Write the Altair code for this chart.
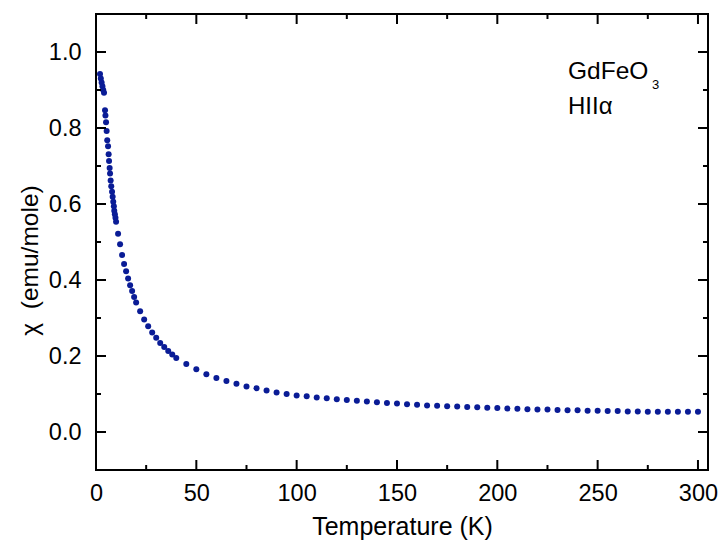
import altair as alt
import pandas as pd

# Data
temperature = [
    2.0, 2.4, 2.8, 3.2, 3.6, 4.0,
    4.5, 4.7, 5.0, 5.3, 5.6, 6.0, 6.3, 6.5, 6.8, 7.0, 7.3, 7.6, 8.0, 8.3,
    8.6, 8.9, 9.1, 9.4, 9.7, 10.0,
    11, 12, 13, 14, 15, 16, 17, 18, 19, 20,
    22, 24, 26, 28, 30, 32, 34, 36, 38, 40,
    45, 50, 55, 60, 65, 70, 75, 80, 85, 90,
    95, 100, 105, 110, 115, 120, 125, 130, 135, 140,
    145, 150, 155, 160, 165, 170, 175, 180, 185, 190,
    195, 200, 205, 210, 215, 220, 225, 230, 235, 240,
    245, 250, 255, 260, 265, 270, 275, 280, 285, 290,
    295, 300,
]
chi = [
    0.942, 0.930, 0.920, 0.910, 0.900, 0.893,
    0.847, 0.833, 0.815, 0.792, 0.768, 0.752, 0.731, 0.713, 0.695, 0.680,
    0.662, 0.647, 0.632, 0.619, 0.606, 0.594, 0.582, 0.573, 0.564, 0.553,
    0.522, 0.494, 0.466, 0.442, 0.423, 0.404, 0.386, 0.371, 0.355, 0.341,
    0.318, 0.296, 0.278, 0.262, 0.248, 0.234, 0.224, 0.213, 0.204, 0.195,
    0.179, 0.165, 0.152, 0.142, 0.134, 0.127, 0.120, 0.115, 0.109, 0.104,
    0.100, 0.096, 0.094, 0.091, 0.089, 0.086, 0.084, 0.082, 0.080, 0.078,
    0.076, 0.075, 0.073, 0.072, 0.070, 0.069, 0.068, 0.067, 0.066, 0.065,
    0.064, 0.063, 0.062, 0.061, 0.060, 0.059, 0.059, 0.058, 0.057, 0.057,
    0.056, 0.056, 0.055, 0.055, 0.054, 0.054, 0.053, 0.053, 0.053, 0.053,
    0.053, 0.053,
]

x_major = [0, 50, 100, 150, 200, 250, 300]
x_minor = [25, 75, 125, 175, 225, 275]
y_major = [0.0, 0.2, 0.4, 0.6, 0.8, 1.0]
y_minor = [0.1, 0.3, 0.5, 0.7, 0.9]

x_domain = [0, 305]
y_domain = [-0.1, 1.1]

W, H = 612, 456
FONT = "Liberation Sans"
COLOR = "#0A1C96"
X_TITLE = "Temperature (K)"
Y_TITLE = "χ\u00a0\u00a0(emu/mole)"

xs = alt.Scale(domain=x_domain, nice=False, zero=False)
ys = alt.Scale(domain=y_domain, nice=False, zero=False)

x_axis = alt.Axis(values=x_major, ticks=False, tickSize=0, domain=False,
                  grid=False, labelPadding=11, titlePadding=10,
                  labelFlush=False,
                  labelFontSize=23.5, titleFontSize=25, labelFont=FONT,
                  titleFont=FONT, titleFontWeight="normal",
                  labelColor="black", titleColor="black")
y_axis = alt.Axis(values=y_major, format=".1f", ticks=False, tickSize=0,
                  domain=False, grid=False, labelPadding=15,
                  labelFlush=False,
                  titleX=-66, titleY=246, titleAngle=270,
                  titleAlign="center", titleBaseline="middle",
                  labelFontSize=23.5, titleFontSize=24.5,
                  labelFont=FONT, titleFont=FONT,
                  titleFontWeight="normal", labelColor="black",
                  titleColor="black")

df = pd.DataFrame({"T": temperature, "chi": chi})

points = alt.Chart(df).mark_circle(size=36, color=COLOR, opacity=1).encode(
    x=alt.X("T:Q", scale=xs, title=X_TITLE, axis=x_axis),
    y=alt.Y("chi:Q", scale=ys, title=Y_TITLE, axis=y_axis),
)

def xticks(vals, length, top):
    d = pd.DataFrame({"T": vals})
    if top:
        yy, yy2 = 0, length
    else:
        yy, yy2 = H, H - length
    return alt.Chart(d).mark_rule(color="black", strokeWidth=2).encode(
        x=alt.X("T:Q", scale=xs, title=X_TITLE, axis=x_axis),
        y=alt.value(yy), y2=alt.value(yy2))

def yticks(vals, length, right):
    d = pd.DataFrame({"chi": vals})
    if right:
        xx, xx2 = W, W - length
    else:
        xx, xx2 = 0, length
    return alt.Chart(d).mark_rule(color="black", strokeWidth=2).encode(
        y=alt.Y("chi:Q", scale=ys, title=Y_TITLE, axis=y_axis),
        x=alt.value(xx), x2=alt.value(xx2))

tick_layers = [
    xticks(x_major, 10, False), xticks(x_minor, 5, False),
    xticks(x_major, 10, True), xticks(x_minor, 5, True),
    yticks(y_major, 10, False), yticks(y_minor, 5, False),
    yticks(y_major, 10, True), yticks(y_minor, 5, True),
]

one = alt.Data(values=[{"a": 1}])
label1 = alt.Chart(one).mark_text(text="GdFeO", font=FONT, fontSize=24.5,
                                  align="left", baseline="alphabetic",
                                  color="black").encode(
    x=alt.value(472), y=alt.value(65))
label_sub = alt.Chart(one).mark_text(text="3", font=FONT, fontSize=13,
                                     align="left", baseline="alphabetic",
                                     color="black").encode(
    x=alt.value(556), y=alt.value(75))
label2 = alt.Chart(one).mark_text(text="HIIα", font=FONT, fontSize=24,
                                  align="left", baseline="alphabetic",
                                  color="black").encode(
    x=alt.value(472), y=alt.value(100))

chart = alt.layer(points, *tick_layers, label1, label_sub, label2).properties(
    width=W, height=H,
    background="white",
    autosize=alt.AutoSizeParams(type="none"),
    padding={"left": 96, "top": 14, "right": 15, "bottom": 80},
).configure_view(stroke="black", strokeWidth=2)

chart.save("out.html", embed_options={"renderer": "svg", "actions": False})
